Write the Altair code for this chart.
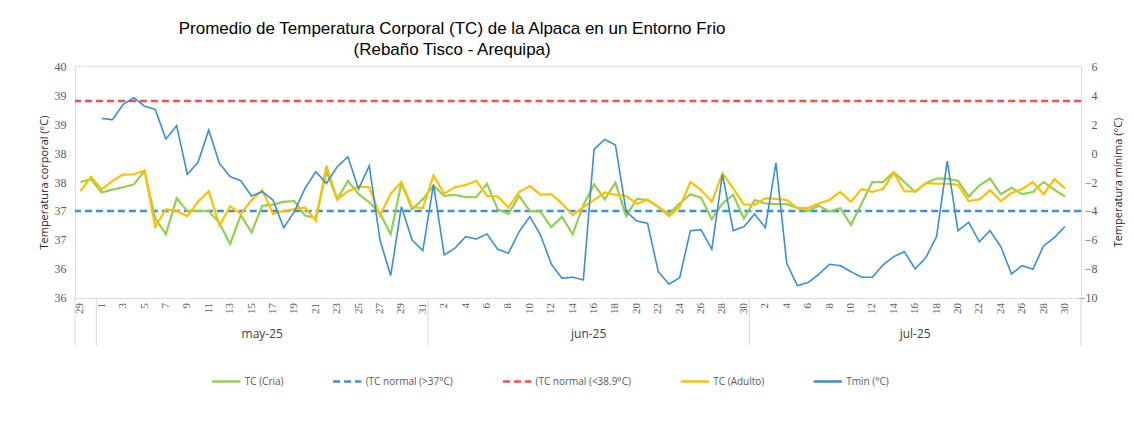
import altair as alt
import pandas as pd

# ---------------- data ----------------
dates = pd.date_range("2025-04-29", "2025-07-31", freq="D")   # category axis (94 days)
day_labels = [str(d.day) for d in dates]
month_names = ["may-25", "jun-25", "jul-25"]
month_first_idx = [2, 33, 63]
month_end_idx = [33, 63, 94]

tc_cria = [
    37.50, 37.55, 37.32, 37.37, 37.41, 37.46, 37.69, 36.87, 36.60, 37.22, 37.00, 37.00, 37.00, 36.79, 36.43, 36.93, 36.63, 37.09, 37.11,
    37.16, 37.17, 36.92, 36.88, 37.69, 37.20, 37.52, 37.29, 37.15, 36.96, 36.60, 37.48, 37.03, 37.20, 37.44, 37.26, 37.28, 37.24, 37.24,
    37.47, 37.03, 36.95, 37.26, 37.00, 36.99, 36.72, 36.90, 36.60, 37.10, 37.46, 37.20, 37.49, 36.91, 37.21, 37.19, 37.07, 36.95,
    37.13, 37.29, 37.23, 36.86, 37.13, 37.28, 36.87, 37.19, 37.13, 37.12, 37.12, 37.05, 37.00, 37.09, 36.99, 37.05, 36.76, 37.13, 37.50,
    37.50, 37.67, 37.50, 37.33, 37.48, 37.56, 37.56, 37.52, 37.25, 37.44, 37.56, 37.29, 37.40, 37.29, 37.33, 37.50, 37.37, 37.25,
]
tc_adulto = [
    37.34, 37.59, 37.37, 37.52, 37.63, 37.63, 37.70, 36.73, 37.03, 37.00, 36.91, 37.16, 37.34, 36.75, 37.08, 36.95, 37.19, 37.36, 36.95,
    37.00, 37.03, 37.06, 36.83, 37.78, 37.20, 37.34, 37.42, 37.41, 36.92, 37.30, 37.50, 37.07, 37.05, 37.61, 37.30, 37.41, 37.45, 37.52,
    37.26, 37.25, 37.06, 37.33, 37.43, 37.28, 37.29, 37.13, 36.93, 37.07, 37.19, 37.32, 37.28, 37.26, 37.12, 37.20, 37.07, 36.91,
    37.07, 37.50, 37.36, 37.16, 37.65, 37.39, 37.11, 37.11, 37.22, 37.21, 37.19, 37.05, 37.05, 37.13, 37.19, 37.33, 37.16, 37.38, 37.33,
    37.38, 37.66, 37.34, 37.34, 37.48, 37.47, 37.47, 37.45, 37.17, 37.20, 37.36, 37.17, 37.31, 37.38, 37.50, 37.29, 37.55, 37.39,
]
tmin_start = 2  # Tmin starts on 1 May
tmin = [
    2.39, 2.30, 3.36, 3.82, 3.24, 3.01, 0.97, 1.89, -1.47, -0.64, 1.59, -0.71, -1.63, -1.91, -2.97, -2.67, -3.24,
    -5.15, -4.05, -2.43, -1.29, -2.09, -0.95, -0.26, -2.48, -0.88, -6.00, -8.46, -3.70, -6.00, -6.74, -2.16, -7.03, -6.57, -5.77, -5.93,
    -5.59, -6.64, -6.92, -5.43, -4.39, -5.66, -7.66, -8.64, -8.57, -8.76, 0.26, 0.94, 0.55, -4.05, -4.69, -4.85, -8.19, -9.05,
    -8.60, -5.36, -5.29, -6.64, -1.47, -5.36, -5.08, -4.21, -5.15, -0.67, -7.61, -9.15, -8.94, -8.37, -7.68, -7.77, -8.19, -8.57, -8.57,
    -7.72, -7.15, -6.81, -8.00, -7.22, -5.77, -0.55, -5.36, -4.78, -6.12, -5.36, -6.46, -8.34, -7.77, -8.02, -6.41, -5.84, -5.08,
]
threshold_names = ["(TC normal (>37°C)", "(TC normal (<38.9°C)"]
threshold_values = [37.0, 38.9]

series_names = ["TC (Cria)", "(TC normal (>37°C)", "(TC normal (<38.9°C)", "TC (Adulto)", "Tmin (°C)"]
series_colors = ["#92D050", "#3D8FD9", "#FF4B4B", "#FFC000", "#3A8ED4"]
series_dash = [[1, 0], [7, 4], [7, 4], [1, 0], [1, 0]]

title_lines = ["Promedio de Temperatura Corporal (TC) de la Alpaca en un Entorno Frio",
               "(Rebaño Tisco - Arequipa)"]

# ---------------- tables ----------------
rows = []
for i, v in enumerate(tc_cria):
    rows.append({"pos": i + 0.5, "value": v, "series": "TC (Cria)"})
for i, v in enumerate(tc_adulto):
    rows.append({"pos": i + 0.5, "value": v, "series": "TC (Adulto)"})
tc_df = pd.DataFrame(rows)
tmin_df = pd.DataFrame({"pos": [tmin_start + i + 0.5 for i in range(len(tmin))],
                        "value": tmin, "series": "Tmin (°C)"})
thr_df = pd.DataFrame({"series": threshold_names, "value": threshold_values})
day_df = pd.DataFrame({"pos": [i + 0.5 for i in range(0, len(dates), 2)],
                       "label": [day_labels[i] for i in range(0, len(dates), 2)]})
month_df = pd.DataFrame({"pos": [(a + b) / 2 for a, b in zip(month_first_idx, month_end_idx)],
                         "label": month_names})
div_df = pd.DataFrame({"pos": [0] + month_first_idx + [len(dates)]})

W, H = 1007, 232
SANS = "Liberation Sans Narrow, Arial Narrow, Open Sans, sans-serif"
TITLEF = "Liberation Sans, Arial, sans-serif"
SERIF = "Liberation Serif, Times New Roman, serif"

xscale = alt.Scale(domain=[0, len(dates)], nice=False, zero=False)
X = alt.X("pos:Q", scale=xscale, axis=None)
legend = alt.Legend(title=None, orient="none", direction="horizontal",
                    columns=5, legendX=136, legendY=300,
                    symbolType="stroke", symbolSize=800, symbolStrokeWidth=2.5,
                    labelFont=SANS, labelFontSize=10, labelColor="#595959",
                    columnPadding=44, labelOffset=3)
color = alt.Color("series:N", scale=alt.Scale(domain=series_names, range=series_colors), legend=legend)
dash = alt.StrokeDash("series:N", scale=alt.Scale(domain=series_names, range=series_dash), legend=legend)

yleft = alt.Y("value:Q",
              scale=alt.Scale(domain=[35.5, 39.5], nice=False, zero=False),
              axis=alt.Axis(title="Temperatura corporal (°C)", values=[35.5 + 0.5 * k for k in range(9)],
                            labelExpr="floor(datum.value + 0.5)", grid=False, ticks=False, domain=False,
                            labelFont=SERIF, labelFontSize=12, labelColor="#595959", labelPadding=9,
                            titleFont=SANS, titleFontSize=11, titleFontWeight="normal",
                            titleColor="#262626", titlePadding=4))

rules = alt.Chart(thr_df).mark_rule(strokeWidth=2.5).encode(y=yleft, color=color, strokeDash=dash)
tc_lines = alt.Chart(tc_df).mark_line(strokeWidth=2.2).encode(x=X, y=yleft, color=color, strokeDash=dash,
                                                               detail="series:N")

day_text = alt.Chart(day_df).mark_text(angle=270, align="right", baseline="middle", font=SERIF,
                                       fontSize=11, color="#595959").encode(
    x=X, y=alt.value(H + 5), text="label:N")
month_text = alt.Chart(month_df).mark_text(baseline="middle", font=SANS, fontSize=12,
                                           color="#404040").encode(
    x=X, y=alt.value(H + 36), text="label:N")
dividers = alt.Chart(div_df).mark_rule(color="#d9d9d9", strokeWidth=1).encode(
    x=X, y=alt.value(H), y2=alt.value(H + 48))

left = alt.layer(rules, tc_lines, day_text, month_text, dividers)

yright = alt.Y("value:Q",
               scale=alt.Scale(domain=[-10, 6], nice=False, zero=False),
               axis=alt.Axis(title="Temperatura mínima (°C)", orient="right",
                             values=list(range(-10, 7, 2)), grid=False, ticks=False, domain=False,
                             labelFont=SERIF, labelFontSize=12, labelColor="#595959",
                             labelAlign="right", labelPadding=16,
                             titleFont=SANS, titleFontSize=11, titleFontWeight="normal",
                             titleColor="#262626", titleAngle=270, titlePadding=26))
tmin_line = alt.Chart(tmin_df).mark_line(strokeWidth=1.6).encode(x=X, y=yright, color=color,
                                                                  strokeDash=dash)

chart = alt.layer(left, tmin_line).resolve_scale(y="independent").properties(
    width=W, height=H,
    autosize=alt.AutoSizeParams(type="none"),
    padding={"left": 67, "top": 58, "right": 45, "bottom": 120},
    title=alt.TitleParams(text=title_lines, anchor="middle", dx=-126, font=TITLEF, fontSize=17,
                          fontWeight="normal", color="#000000", lineHeight=21, offset=1),
).configure_view(stroke="#d9d9d9", strokeWidth=1).configure(background="white")

chart.save("out.html", embed_options={"renderer": "svg", "actions": False})
